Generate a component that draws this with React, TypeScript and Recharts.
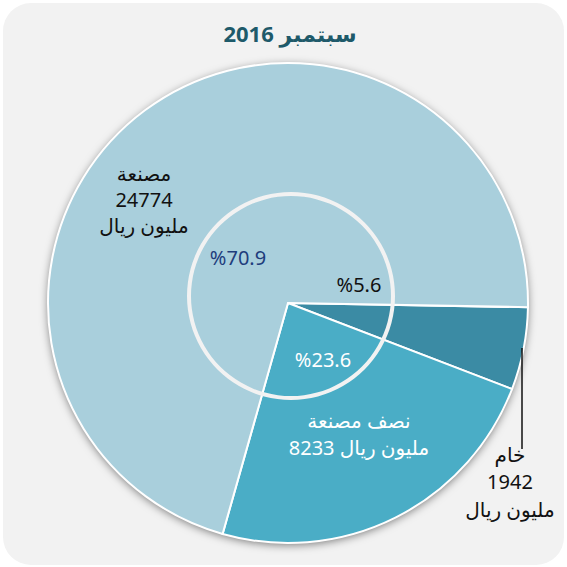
import { PieChart, Pie, Cell } from 'recharts'

// September 2016 exports, million riyal (clockwise from 3 o'clock)
const CATEGORIES = ['خام', 'نصف مصنعة', 'مصنعة']
const VALUES = [1942, 8233, 24774]
const PERCENTS = ['%5.6', '%23.6', '%70.9']
const COLORS = ['#3b8ba4', '#4aadc6', '#a9cfdc']

const TITLE = 'سبتمبر 2016'
const UNIT = 'مليون ريال'

const data = CATEGORIES.map((name, i) => ({ name, value: VALUES[i] }))

const FONT = "'Noto Sans', 'DejaVu Sans', sans-serif"

function renderLabel(props: any) {
  const { cx, cy, index } = props
  const t = (x: number, y: number, s: string, fill: string) => (
    <text
      key={s + y}
      x={cx + x}
      y={cy + y}
      textAnchor="middle"
      direction="ltr"
      fill={fill}
      fontSize={20}
      fontFamily={FONT}
    >
      {s}
    </text>
  )
  if (index === 0) {
    return (
      <g>
        <line x1={cx + 234} y1={cy + 45} x2={cx + 234} y2={cy + 146} stroke="#111" strokeWidth={1.5} />
        {t(222, 159, CATEGORIES[0], '#111')}
        {t(222, 186, String(VALUES[0]), '#111')}
        {t(222, 214, UNIT, '#111')}
        {t(71, -11, PERCENTS[0], '#111')}
      </g>
    )
  }
  if (index === 1) {
    return (
      <g>
        {t(71, 125, CATEGORIES[1], '#fff')}
        {t(71, 152, `${VALUES[1]} ${UNIT}`, '#fff')}
        {t(35, 64, PERCENTS[1], '#fff')}
      </g>
    )
  }
  return (
    <g>
      {t(-144, -122, CATEGORIES[2], '#111')}
      {t(-144, -96, String(VALUES[2]), '#111')}
      {t(-144, -70, UNIT, '#111')}
      {t(-50, -38, PERCENTS[2], '#1f3d7c')}
    </g>
  )
}

export default function App() {
  return (
    <div style={{ position: 'absolute', left: 0, top: 0, width: 567, height: 567, background: '#fff' }}>
      <div
        style={{
          position: 'absolute',
          left: 3,
          top: 3,
          width: 561,
          height: 562,
          borderRadius: 28,
          background: '#f2f2f2',
        }}
      />
      <div
        style={{
          position: 'absolute',
          left: 48,
          top: 63,
          width: 480,
          height: 480,
          borderRadius: '50%',
          boxShadow: '0 2px 9px rgba(0,0,0,0.5)',
        }}
      />
      <div style={{ position: 'absolute', left: 0, top: 0 }}>
        <PieChart width={567} height={567} margin={{ top: 0, right: 0, bottom: 0, left: 0 }}>
          <text
            x={290}
            y={42}
            textAnchor="middle"
            direction="rtl"
            fill="#1e5a6a"
            fontSize={22}
            fontWeight="bold"
            fontFamily={FONT}
          >
            {TITLE}
          </text>
          <Pie
            data={data}
            dataKey="value"
            nameKey="name"
            cx={288}
            cy={303}
            outerRadius={240}
            startAngle={-1}
            endAngle={-361}
            stroke="#fff"
            strokeWidth={2}
            label={renderLabel}
            labelLine={false}
            isAnimationActive={false}
          >
            {data.map((d, i) => (
              <Cell key={d.name} fill={COLORS[i]} />
            ))}
          </Pie>
          <Pie
            data={[{ value: 1 }]}
            dataKey="value"
            cx={291}
            cy={296}
            innerRadius={100}
            outerRadius={104}
            fill="#f2f2f2"
            stroke="none"
            isAnimationActive={false}
          />
        </PieChart>
      </div>
    </div>
  )
}
